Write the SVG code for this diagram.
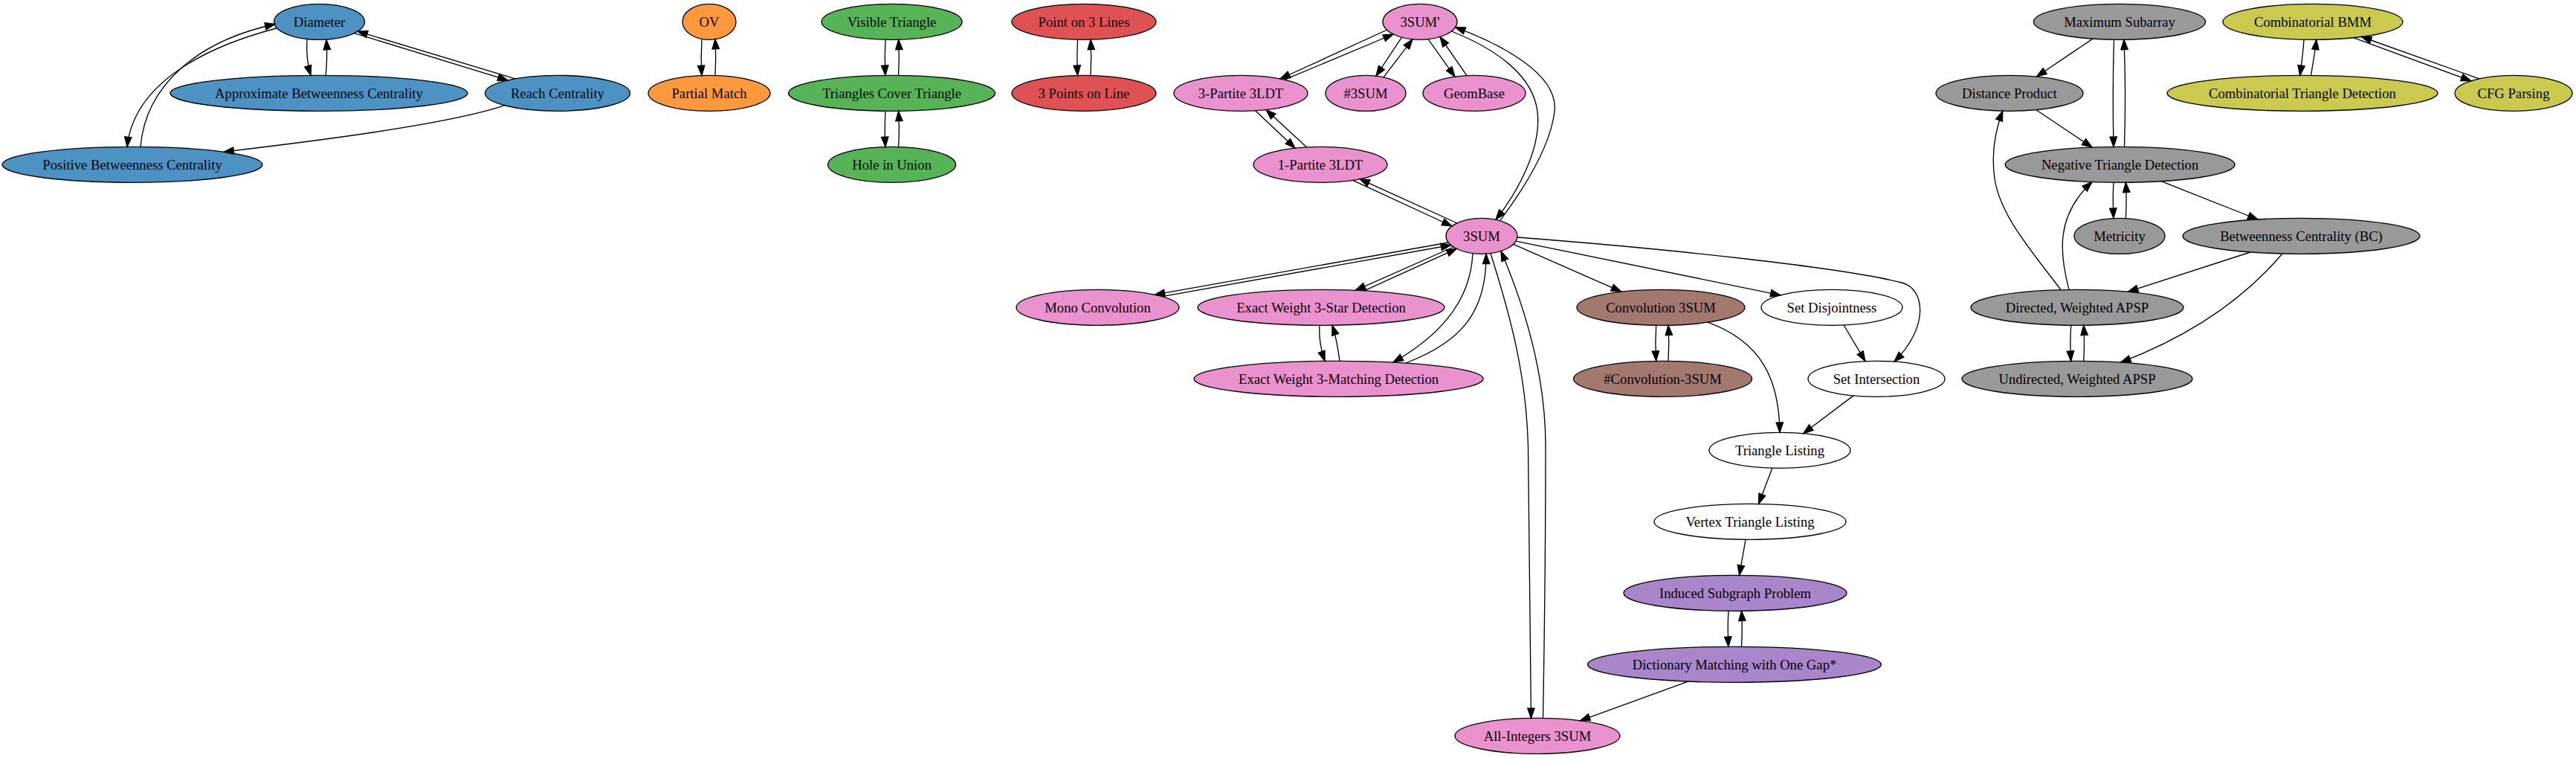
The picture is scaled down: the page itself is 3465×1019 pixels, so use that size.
<svg xmlns="http://www.w3.org/2000/svg" width="3465" height="1019" viewBox="0 0 3465 1019">
<style>
.n ellipse{stroke:#000;stroke-width:1.33}
.n text{font-family:"Liberation Serif","Times New Roman",serif;font-size:18.67px;text-anchor:middle;fill:#000}
.blue ellipse{fill:#4c92c3}
.orange ellipse{fill:#ff993e}
.green ellipse{fill:#56b356}
.red ellipse{fill:#de5253}
.pink ellipse{fill:#e992ce}
.brown ellipse{fill:#a3786f}
.purple ellipse{fill:#a985ca}
.gray ellipse{fill:#999999}
.olive ellipse{fill:#c9ca4e}
.white ellipse{fill:#ffffff}
#edges path{fill:none;stroke:#000;stroke-width:1.33;marker-end:url(#arr)}
</style>
<defs>
<marker id="arr" markerUnits="userSpaceOnUse" markerWidth="16" markerHeight="12" viewBox="0 0 16 12" refX="14.3" refY="6" orient="auto" overflow="visible">
<path d="M1,1.33 L14.3,6 L1,10.67 z" fill="#000" stroke="#000" stroke-width="1.33"/>
</marker>
</defs>
<rect x="0" y="0" width="3465" height="1019" fill="#ffffff"/>

<g id="node-diameter" class="n blue"><ellipse cx="429.5" cy="29.3" rx="61" ry="24"/><text x="429.5" y="35.8">Diameter</text></g>
<g id="node-abc" class="n blue"><ellipse cx="429" cy="125.3" rx="200" ry="24"/><text x="429" y="131.8">Approximate Betweenness Centrality</text></g>
<g id="node-reach" class="n blue"><ellipse cx="750" cy="125.3" rx="97.5" ry="24"/><text x="750" y="131.8">Reach Centrality</text></g>
<g id="node-pbc" class="n blue"><ellipse cx="178" cy="221.3" rx="175" ry="24"/><text x="178" y="227.8">Positive Betweenness Centrality</text></g>

<g id="node-ov" class="n orange"><ellipse cx="954" cy="29.3" rx="36" ry="24"/><text x="954" y="35.8">OV</text></g>
<g id="node-pm" class="n orange"><ellipse cx="954" cy="125.3" rx="82" ry="24"/><text x="954" y="131.8">Partial Match</text></g>

<g id="node-vt" class="n green"><ellipse cx="1199.6" cy="29.3" rx="94.5" ry="24"/><text x="1199.6" y="35.8">Visible Triangle</text></g>
<g id="node-tct" class="n green"><ellipse cx="1199.6" cy="125.3" rx="139" ry="24"/><text x="1199.6" y="131.8">Triangles Cover Triangle</text></g>
<g id="node-hiu" class="n green"><ellipse cx="1199.6" cy="221.3" rx="86" ry="24"/><text x="1199.6" y="227.8">Hole in Union</text></g>

<g id="node-p3l" class="n red"><ellipse cx="1458" cy="29.3" rx="97" ry="24"/><text x="1458" y="35.8">Point on 3 Lines</text></g>
<g id="node-3pl" class="n red"><ellipse cx="1458" cy="125.3" rx="97" ry="24"/><text x="1458" y="131.8">3 Points on Line</text></g>

<g id="node-3sump" class="n pink"><ellipse cx="1910" cy="29.3" rx="50" ry="24"/><text x="1910" y="35.8">3SUM'</text></g>
<g id="node-3p3ldt" class="n pink"><ellipse cx="1669" cy="125.3" rx="90" ry="24"/><text x="1669" y="131.8">3-Partite 3LDT</text></g>
<g id="node-h3sum" class="n pink"><ellipse cx="1837" cy="125.3" rx="54" ry="24"/><text x="1837" y="131.8">#3SUM</text></g>
<g id="node-geombase" class="n pink"><ellipse cx="1983" cy="125.3" rx="69" ry="24"/><text x="1983" y="131.8">GeomBase</text></g>
<g id="node-1p3ldt" class="n pink"><ellipse cx="1776" cy="221.3" rx="90" ry="24"/><text x="1776" y="227.8">1-Partite 3LDT</text></g>
<g id="node-3sum" class="n pink"><ellipse cx="1993" cy="317.3" rx="48" ry="24"/><text x="1993" y="323.8">3SUM</text></g>
<g id="node-mono" class="n pink"><ellipse cx="1476.5" cy="413.3" rx="109.5" ry="24"/><text x="1476.5" y="419.8">Mono Convolution</text></g>
<g id="node-ew3s" class="n pink"><ellipse cx="1777" cy="413.3" rx="166" ry="24"/><text x="1777" y="419.8">Exact Weight 3-Star Detection</text></g>
<g id="node-ew3m" class="n pink"><ellipse cx="1800.6" cy="509.3" rx="194.6" ry="24"/><text x="1800.6" y="515.8">Exact Weight 3-Matching Detection</text></g>
<g id="node-ai3sum" class="n pink"><ellipse cx="2068" cy="989.3" rx="111" ry="24"/><text x="2068" y="995.8">All-Integers 3SUM</text></g>

<g id="node-conv" class="n brown"><ellipse cx="2234" cy="413.3" rx="113" ry="24"/><text x="2234" y="419.8">Convolution 3SUM</text></g>
<g id="node-hconv" class="n brown"><ellipse cx="2236.6" cy="509.3" rx="120" ry="24"/><text x="2236.6" y="515.8">#Convolution-3SUM</text></g>

<g id="node-sdis" class="n white"><ellipse cx="2464" cy="413.3" rx="95" ry="24"/><text x="2464" y="419.8">Set Disjointness</text></g>
<g id="node-sint" class="n white"><ellipse cx="2524" cy="509.3" rx="92" ry="24"/><text x="2524" y="515.8">Set Intersection</text></g>
<g id="node-tl" class="n white"><ellipse cx="2394" cy="605.3" rx="95" ry="24"/><text x="2394" y="611.8">Triangle Listing</text></g>
<g id="node-vtl" class="n white"><ellipse cx="2354" cy="701.3" rx="129" ry="24"/><text x="2354" y="707.8">Vertex Triangle Listing</text></g>

<g id="node-isp" class="n purple"><ellipse cx="2334" cy="797.3" rx="150" ry="24"/><text x="2334" y="803.8">Induced Subgraph Problem</text></g>
<g id="node-dm" class="n purple"><ellipse cx="2333" cy="893.3" rx="197.5" ry="24"/><text x="2333" y="899.8">Dictionary Matching with One Gap*</text></g>

<g id="node-ms" class="n gray"><ellipse cx="2851" cy="29.3" rx="115.6" ry="24"/><text x="2851" y="35.8">Maximum Subarray</text></g>
<g id="node-dp" class="n gray"><ellipse cx="2703" cy="125.3" rx="99" ry="24"/><text x="2703" y="131.8">Distance Product</text></g>
<g id="node-ntd" class="n gray"><ellipse cx="2851.6" cy="221.3" rx="154.5" ry="24"/><text x="2851.6" y="227.8">Negative Triangle Detection</text></g>
<g id="node-met" class="n gray"><ellipse cx="2851" cy="317.3" rx="61" ry="24"/><text x="2851" y="323.8">Metricity</text></g>
<g id="node-bc" class="n gray"><ellipse cx="3095.5" cy="317.3" rx="159.5" ry="24"/><text x="3095.5" y="323.8">Betweenness Centrality (BC)</text></g>
<g id="node-dapsp" class="n gray"><ellipse cx="2794" cy="413.3" rx="143" ry="24"/><text x="2794" y="419.8">Directed, Weighted APSP</text></g>
<g id="node-uapsp" class="n gray"><ellipse cx="2794" cy="509.3" rx="155" ry="24"/><text x="2794" y="515.8">Undirected, Weighted APSP</text></g>

<g id="node-bmm" class="n olive"><ellipse cx="3111" cy="29.3" rx="121" ry="24"/><text x="3111" y="35.8">Combinatorial BMM</text></g>
<g id="node-ctd" class="n olive"><ellipse cx="3097" cy="125.3" rx="182" ry="24"/><text x="3097" y="131.8">Combinatorial Triangle Detection</text></g>
<g id="node-cfg" class="n olive"><ellipse cx="3381" cy="125.3" rx="79" ry="24"/><text x="3381" y="131.8">CFG Parsing</text></g>

<g id="edges">
<path d="M413,53 C412,68 413,85 418,101.4"/>
<path d="M438,101.4 C440,86 440,70 439,53.5"/>
<path d="M372,38 C280,62 180,110 171,197.5"/>
<path d="M189,197.5 C196,115 265,55 370,32.5"/>
<path d="M476.5,44.6 L683,107.9"/>
<path d="M693,105.8 L481,42.2"/>
<path d="M679,141.7 C600,168 420,190 301,204.2"/>
<path d="M944,52.3 C943,68 943,85 944,101.5"/>
<path d="M962,101.5 C963,85 963,70 962,52.5"/>
<path d="M1191,53.3 C1190,70 1190,85 1191,101.4"/>
<path d="M1208.6,101.4 C1209.6,85 1209.6,70 1208.6,53.3"/>
<path d="M1191,149.3 C1190,165 1190,180 1191,197.4"/>
<path d="M1208.6,197.4 C1209.6,180 1209.6,165 1208.6,149.3"/>
<path d="M1449.5,53.3 C1448.5,70 1448.5,85 1449.5,101.4"/>
<path d="M1467,101.4 C1468,85 1468,70 1467,53.3"/>
<path d="M1866,40 L1722,106"/>
<path d="M1728,107.2 L1874,46"/>
<path d="M1885.5,50.2 L1851,102.1"/>
<path d="M1861,103.8 L1900,52.8"/>
<path d="M1921,52.7 L1957,103.1"/>
<path d="M1973,101.6 L1937,49.5"/>
<path d="M1688.6,148.7 L1742,199.1"/>
<path d="M1757.5,197.8 L1703,147.5"/>
<path d="M1819.5,242.3 L1953,304"/>
<path d="M1960,300 L1829,240.7"/>
<path d="M1952.4,42 C2010,65 2062,100 2068,150 C2074,200 2040,260 2012,295.3"/>
<path d="M2017.6,296.7 C2045,260 2085,200 2091,150 C2097,100 2020,60 1957.6,36.7"/>
<path d="M1948.3,326 L1553.3,396.2"/>
<path d="M1563,398.6 L1951.7,329.5"/>
<path d="M1955,332 L1823.3,390.3"/>
<path d="M1835,390.8 L1959.3,334.4"/>
<path d="M1775,437.3 C1774,452 1776,468 1782,485.4"/>
<path d="M1802,485.4 C1800,470 1797,452 1792,437.3"/>
<path d="M1981,340.5 C1978,410 1930,455 1874,487.1"/>
<path d="M1891,488 C1965,460 2000,420 1999,341.3"/>
<path d="M2005,340.5 C2030,420 2053,500 2055.5,600 C2057,750 2059,880 2059.5,965.4"/>
<path d="M2075.5,965.4 C2077,880 2079,750 2079,600 C2079,500 2050,410 2019,337.5"/>
<path d="M2035.7,328.3 L2180.8,392.1"/>
<path d="M2039,324.2 L2395,396.8"/>
<path d="M2040.9,319 C2250,335 2480,360 2558,380 C2590,388 2595,440 2548,486.1"/>
<path d="M2227.7,437.3 C2226.7,452 2226.7,470 2227.7,485.3"/>
<path d="M2244,485.3 C2245,470 2245,452 2244,437.3"/>
<path d="M2480,437 L2509,485.6"/>
<path d="M2297,433.2 C2370,460 2393,510 2394,581.3"/>
<path d="M2493,531.9 L2425.7,582.7"/>
<path d="M2384,629.1 L2365.5,677.4"/>
<path d="M2348,725.3 L2339.6,773.3"/>
<path d="M2325,821.3 C2324,836 2324,852 2325,869.3"/>
<path d="M2342.5,869.3 C2343.5,852 2343.5,836 2342.5,821.3"/>
<path d="M2270.7,916.1 L2125.5,968.8"/>
<path d="M2815,52.1 L2739.6,103"/>
<path d="M2843.5,53.3 C2842,100 2842,150 2843,197.4"/>
<path d="M2857.5,197.4 C2859,150 2859,100 2857,53.3"/>
<path d="M2739,147.7 L2814,198"/>
<path d="M3099,53.3 C3098,70 3096,85 3093.7,101.4"/>
<path d="M3108.6,101.4 C3111,85 3114,70 3115.8,53.2"/>
<path d="M3165.5,50.7 L3323.8,108.7"/>
<path d="M3334.8,105.8 L3176.5,49.5"/>
<path d="M2772,389.6 C2735,340 2690,290 2683,240 C2678,205 2684,175 2693.8,149.2"/>
<path d="M2783,389.4 C2770,340 2765,290 2814,244.6"/>
<path d="M2843,245.3 C2842,260 2842,275 2843,293.3"/>
<path d="M2859.4,293.3 C2860.4,275 2860.4,260 2859.4,245.3"/>
<path d="M2907,243.7 L3037,295"/>
<path d="M3027,339 L2862.5,392.2"/>
<path d="M3070,341 C3020,400 2950,450 2852.7,487.1"/>
<path d="M2785.7,437.3 C2784.7,452 2784.7,470 2785.7,485.4"/>
<path d="M2802.7,485.4 C2803.7,470 2803.7,452 2802.7,437.3"/>
</g>
</svg>
